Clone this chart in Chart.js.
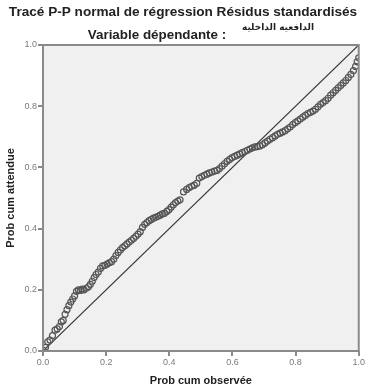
<!DOCTYPE html>
<html>
<head>
<meta charset="utf-8">
<script src="https://cdn.jsdelivr.net/npm/chart.js@4"></script>
<style>
  html, body { margin: 0; padding: 0; background: #fff; }
  #wrap { width: 366px; height: 392px; position: relative; }
</style>
</head>
<body>
<div id="wrap"><canvas id="ppChart" width="366" height="392"></canvas></div>
<script>
// ===== DATA =====
const titleLine1 = 'Tracé P-P normal de régression Résidus standardisés';
const titleLine2 = 'Variable dépendante :';
const depVarName = 'الدافعيه الداخليه';
const xAxisLabel = 'Prob cum observée';
const yAxisLabel = 'Prob cum attendue';
const tickValues = [0, 0.2, 0.4, 0.6, 0.8, 1.0];

const observedProb = [
  0.000, 0.008, 0.015, 0.022, 0.030, 0.038, 0.045, 0.052, 0.058, 0.064,
  0.070, 0.076, 0.082, 0.088, 0.094, 0.100, 0.106, 0.112, 0.118, 0.124,
  0.130, 0.137, 0.144, 0.150, 0.156, 0.162, 0.168, 0.175, 0.182, 0.189,
  0.196, 0.203, 0.210, 0.217, 0.224, 0.231, 0.238, 0.245, 0.252, 0.259,
  0.266, 0.273, 0.280, 0.287, 0.294, 0.301, 0.308, 0.315, 0.322, 0.329,
  0.336, 0.343, 0.350, 0.357, 0.364, 0.371, 0.378, 0.385, 0.392, 0.399,
  0.406, 0.413, 0.420, 0.427, 0.434, 0.445, 0.455, 0.463, 0.471, 0.479,
  0.487, 0.495, 0.503, 0.511, 0.519, 0.527, 0.535, 0.543, 0.551, 0.559,
  0.567, 0.575, 0.583, 0.591, 0.599, 0.607, 0.615, 0.623, 0.631, 0.639,
  0.647, 0.655, 0.663, 0.671, 0.679, 0.687, 0.695, 0.703, 0.711, 0.719,
  0.727, 0.735, 0.743, 0.751, 0.759, 0.767, 0.775, 0.783, 0.791, 0.799,
  0.807, 0.815, 0.823, 0.831, 0.839, 0.847, 0.855, 0.863, 0.871, 0.879,
  0.887, 0.895, 0.903, 0.911, 0.919, 0.927, 0.935, 0.943, 0.951, 0.959,
  0.967, 0.975, 0.983, 0.990, 0.995, 1.000
];
const expectedProb = [
  0.003, 0.012, 0.030, 0.036, 0.050, 0.068, 0.072, 0.080, 0.095, 0.100,
  0.120, 0.135, 0.148, 0.160, 0.170, 0.180, 0.195, 0.200, 0.198, 0.202,
  0.200, 0.205, 0.210, 0.218, 0.228, 0.240, 0.250, 0.258, 0.270, 0.278,
  0.280, 0.284, 0.288, 0.292, 0.300, 0.312, 0.322, 0.330, 0.338, 0.344,
  0.350, 0.356, 0.362, 0.368, 0.375, 0.382, 0.390, 0.404, 0.414, 0.420,
  0.426, 0.430, 0.434, 0.437, 0.440, 0.444, 0.448, 0.450, 0.456, 0.462,
  0.470, 0.478, 0.485, 0.490, 0.494, 0.520, 0.528, 0.534, 0.538, 0.542,
  0.548, 0.565, 0.570, 0.574, 0.578, 0.582, 0.585, 0.588, 0.590, 0.596,
  0.604, 0.612, 0.620, 0.626, 0.632, 0.636, 0.640, 0.644, 0.648, 0.652,
  0.656, 0.660, 0.664, 0.667, 0.668, 0.670, 0.674, 0.680, 0.686, 0.692,
  0.697, 0.703, 0.708, 0.712, 0.716, 0.720, 0.726, 0.732, 0.740, 0.746,
  0.752, 0.758, 0.764, 0.770, 0.776, 0.780, 0.784, 0.790, 0.798, 0.806,
  0.812, 0.818, 0.826, 0.836, 0.844, 0.852, 0.860, 0.868, 0.876, 0.884,
  0.894, 0.904, 0.916, 0.930, 0.945, 0.958
];
const referenceLine = [0, 1];

// ===== PLUGINS =====
// grey plot background + frame
const plotFrame = {
  id: 'plotFrame',
  beforeDatasetsDraw(chart) {
    const { ctx, chartArea: a } = chart;
    ctx.save();
    ctx.fillStyle = '#f0f0f0';
    ctx.fillRect(a.left, a.top, a.right - a.left, a.bottom - a.top);
    ctx.restore();
  },
  afterDatasetsDraw(chart) {
    const { ctx, chartArea: a } = chart;
    ctx.save();
    ctx.strokeStyle = '#8a8a8a';
    ctx.lineWidth = 2;
    ctx.strokeRect(a.left, a.top, a.right - a.left, a.bottom - a.top);
    ctx.restore();
  }
};

// two-line header with the arabic variable name
const header = {
  id: 'header',
  afterDraw(chart) {
    const ctx = chart.ctx;
    ctx.save();
    ctx.fillStyle = '#222';
    ctx.textBaseline = 'middle';
    ctx.textAlign = 'center';
    ctx.font = 'bold 13.6px Arial, "Liberation Sans", sans-serif';
    ctx.fillText(titleLine1, 183, 12);
    ctx.font = 'bold 13.4px Arial, "Liberation Sans", sans-serif';
    ctx.fillText(titleLine2, 157, 35);
    ctx.font = 'bold 9px "DejaVu Sans", sans-serif';
    ctx.direction = 'rtl';
    ctx.fillText(depVarName, 278, 28);
    ctx.restore();
  }
};

// ===== CHART =====
const points = observedProb.map((x, i) => ({ x: x, y: expectedProb[i] }));
const diag = referenceLine.map(v => ({ x: v, y: v }));

const tickFont = { family: 'Arial, "Liberation Sans", sans-serif', size: 9 };

new Chart(document.getElementById('ppChart'), {
  type: 'scatter',
  data: {
    datasets: [
      {
        type: 'line',
        data: diag,
        borderColor: '#333',
        borderWidth: 1.2,
        pointRadius: 0,
        order: 2
      },
      {
        data: points,
        pointRadius: 3,
        pointBorderWidth: 1.2,
        pointBorderColor: '#555',
        pointBackgroundColor: 'rgba(0,0,0,0)',
        order: 1
      }
    ]
  },
  options: {
    responsive: false,
    animation: false,
    layout: { padding: { top: 45, right: 6, left: 0, bottom: 0 } },
    plugins: {
      legend: { display: false },
      tooltip: { enabled: false }
    },
    scales: {
      x: {
        type: 'linear',
        min: 0,
        max: 1,
        afterBuildTicks: s => { s.ticks = tickValues.map(v => ({ value: v })); },
        afterFit: s => { s.height = 41; },
        border: { display: false },
        grid: { drawOnChartArea: false, tickLength: 5, color: '#8a8a8a', lineWidth: 2 },
        ticks: {
          color: '#7a7a7a',
          font: tickFont,
          padding: 1,
          callback: v => v.toFixed(1)
        },
        title: {
          display: true,
          text: xAxisLabel,
          color: '#222',
          font: { family: 'Arial, "Liberation Sans", sans-serif', size: 11, weight: 'bold' },
          padding: { top: 6 }
        }
      },
      y: {
        type: 'linear',
        min: 0,
        max: 1,
        afterBuildTicks: s => { s.ticks = tickValues.map(v => ({ value: v })); },
        afterFit: s => { s.width = 43; },
        border: { display: false },
        grid: { drawOnChartArea: false, tickLength: 5, color: '#8a8a8a', lineWidth: 2 },
        ticks: {
          color: '#7a7a7a',
          font: tickFont,
          padding: 1,
          callback: v => v.toFixed(1)
        },
        title: {
          display: true,
          text: yAxisLabel,
          color: '#222',
          font: { family: 'Arial, "Liberation Sans", sans-serif', size: 11, weight: 'bold' },
          padding: { bottom: 4 }
        }
      }
    }
  },
  plugins: [plotFrame, header]
});
</script>
</body>
</html>
